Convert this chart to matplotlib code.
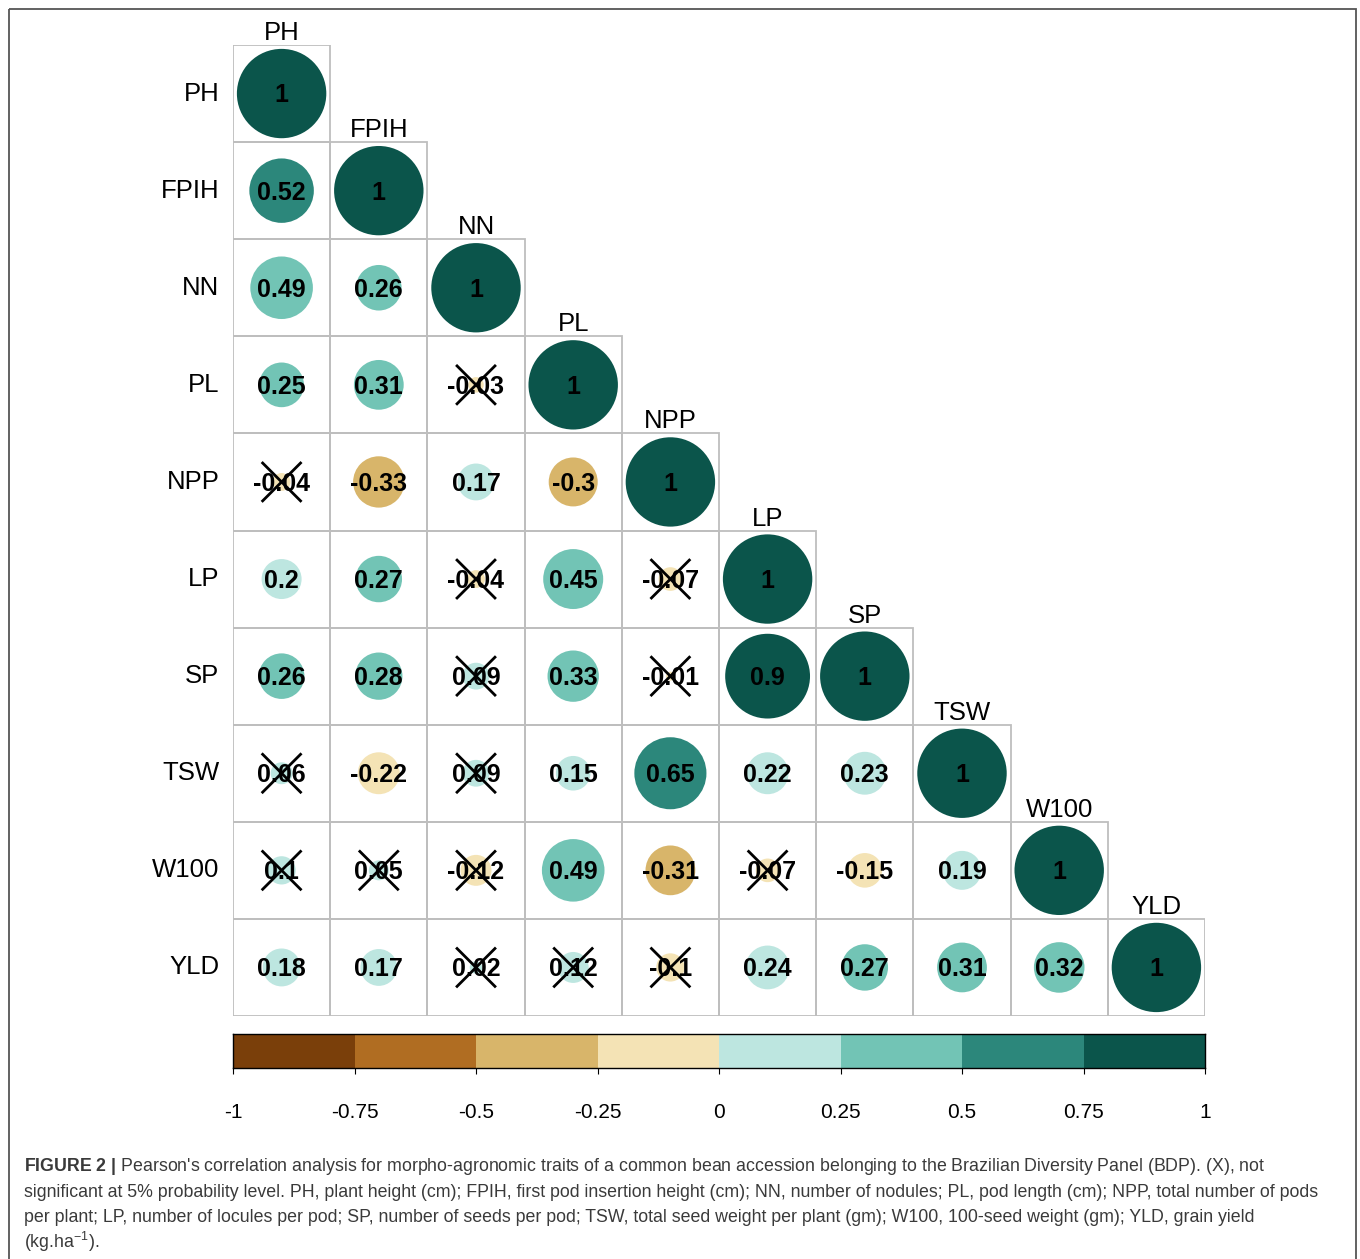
import matplotlib
matplotlib.use("Agg")
import matplotlib.pyplot as plt
from matplotlib.patches import Circle, Rectangle
from matplotlib.colors import ListedColormap, BoundaryNorm
import numpy as np

plt.rcParams["font.family"] = ["Liberation Sans", "DejaVu Sans"]
plt.rcParams["mathtext.fontset"] = "custom"
plt.rcParams["mathtext.rm"] = "Liberation Sans"
plt.rcParams["mathtext.it"] = "Liberation Sans:italic"
plt.rcParams["mathtext.bf"] = "Liberation Sans:bold"

TRAITS = ["PH", "FPIH", "NN", "PL", "NPP", "LP", "SP", "TSW", "W100", "YLD"]

# lower triangle of the Pearson matrix, one list per row
R_PH   = [1]
R_FPIH = [0.52, 1]
R_NN   = [0.49, 0.26, 1]
R_PL   = [0.25, 0.31, -0.03, 1]
R_NPP  = [-0.04, -0.33, 0.17, -0.3, 1]
R_LP   = [0.2, 0.27, -0.04, 0.45, -0.07, 1]
R_SP   = [0.26, 0.28, 0.09, 0.33, -0.01, 0.9, 1]
R_TSW  = [0.06, -0.22, 0.09, 0.15, 0.65, 0.22, 0.23, 1]
R_W100 = [0.1, 0.05, -0.12, 0.49, -0.31, -0.07, -0.15, 0.19, 1]
R_YLD  = [0.18, 0.17, 0.02, 0.12, -0.1, 0.24, 0.27, 0.31, 0.32, 1]
ROWS = [R_PH, R_FPIH, R_NN, R_PL, R_NPP, R_LP, R_SP, R_TSW, R_W100, R_YLD]

# (row, col) pairs not significant at 5%
NOT_SIG = [(4, 0), (3, 2), (5, 2), (5, 4), (6, 2), (6, 4), (7, 0), (7, 2),
           (8, 0), (8, 1), (8, 2), (8, 5), (9, 2), (9, 3), (9, 4)]

PALETTE = ["#7A3F0A", "#B06D22", "#D8B56A", "#F4E3B5",
           "#BDE6E0", "#72C4B5", "#2C877B", "#0B554B"]
BOUNDS = np.linspace(-1, 1, 9)
CBAR_TICKS = [-1, -0.75, -0.5, -0.25, 0, 0.25, 0.5, 0.75, 1]

CAPTION_LINES = [
    r"$\bf{FIGURE\ 2\ |}$ Pearson's correlation analysis for morpho-agronomic traits of a common bean accession belonging to the Brazilian Diversity Panel (BDP). (X), not",
    "significant at 5% probability level. PH, plant height (cm); FPIH, first pod insertion height (cm); NN, number of nodules; PL, pod length (cm); NPP, total number of pods",
    "per plant; LP, number of locules per pod; SP, number of seeds per pod; TSW, total seed weight per plant (gm); W100, 100-seed weight (gm); YLD, grain yield",
    r"(kg.ha$^{-1}$).",
]

W, H = 1360, 1259
cmap = ListedColormap(PALETTE)
norm = BoundaryNorm(BOUNDS, cmap.N)


def fig_box(x0, y0, x1, y1):
    """pixel box (top-left origin) -> figure fraction rect"""
    return [x0 / W, 1 - y1 / H, (x1 - x0) / W, (y1 - y0) / H]


fig = plt.figure(figsize=(W / 100, H / 100), dpi=100)

# outer frame
frame = fig.add_axes([0, 0, 1, 1])
frame.set_xlim(0, W)
frame.set_ylim(H, 0)
frame.axis("off")
frame.add_patch(Rectangle((8.5, 8.5), 1347, 1260, fill=False, ec="#555555", lw=1.3))

n = len(TRAITS)
ax = fig.add_axes(fig_box(233, 45, 1205, 1016))
ax.set_xlim(0, n)
ax.set_ylim(n, 0)
ax.axis("off")

for i, row in enumerate(ROWS):
    for j, r in enumerate(row):
        ax.add_patch(Rectangle((j, i), 1, 1, fill=False, ec="#BEBEBE", lw=1.3,
                               zorder=1))
        ax.add_patch(Circle((j + 0.5, i + 0.5), 0.46 * np.sqrt(abs(r)),
                            fc=cmap(norm(r)), ec="none", zorder=2))
        ax.text(j + 0.5, i + 0.52, "%g" % r, ha="center", va="center",
                fontsize=18, fontweight="bold", color="black", zorder=3)
        if (i, j) in NOT_SIG:
            d = 0.205
            ax.plot([j + 0.5 - d, j + 0.5 + d], [i + 0.5 - d, i + 0.5 + d],
                    color="black", lw=2, zorder=4, solid_capstyle="butt")
            ax.plot([j + 0.5 - d, j + 0.5 + d], [i + 0.5 + d, i + 0.5 - d],
                    color="black", lw=2, zorder=4, solid_capstyle="butt")
    # row label on the left, column label above the diagonal cell
    ax.text(-0.14, i + 0.5, TRAITS[i], ha="right", va="center", fontsize=18.5)
    ax.text(i + 0.5, i + 0.0, TRAITS[i], ha="center", va="bottom", fontsize=18.5)

# colour legend strip
cax = fig.add_axes(fig_box(233, 1034, 1205, 1068))
cax.pcolormesh(BOUNDS, [0, 1], np.array([(BOUNDS[:-1] + BOUNDS[1:]) / 2]),
               cmap=cmap, norm=norm, shading="flat")
cax.set_xlim(-1, 1)
cax.set_ylim(0, 1)
cax.set_yticks([])
cax.set_xticks(CBAR_TICKS)
cax.set_xticklabels(["%g" % t for t in CBAR_TICKS], fontsize=15)
cax.tick_params(axis="x", length=4, width=0.8, pad=21)
for side in ["left", "right", "top", "bottom"]:
    cax.spines[side].set_linewidth(1.0)

# caption, one baseline per line
for k, line in enumerate(CAPTION_LINES):
    fig.text(24 / W, 1 - (1171 + 25.6 * k) / H, line, ha="left", va="baseline",
             fontsize=12.75, color="#3a3a3a")

fig.savefig("out.png", dpi=100)
